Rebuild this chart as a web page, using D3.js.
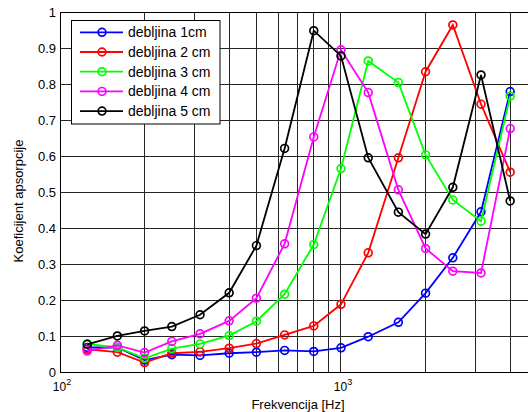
<!DOCTYPE html>
<html>
<head>
<meta charset="utf-8">
<script src="https://d3js.org/d3.v7.min.js"></script>
<style>
  body { margin: 0; background: #fff; }
  text { font-family: "Liberation Sans", Arial, sans-serif; fill: #000; }
</style>
</head>
<body>
<script>
// frequencies (Hz) for each measured point
var freqs = [125, 160, 200, 250, 315, 400, 500, 630, 800, 1000, 1250, 1600, 2000, 2500, 3150, 4000];

// absorption coefficient per thickness
var d1 = [0.070, 0.070, 0.035, 0.050, 0.048, 0.054, 0.057, 0.062, 0.059, 0.069, 0.100, 0.140, 0.221, 0.319, 0.447, 0.781];
var d2 = [0.065, 0.057, 0.028, 0.054, 0.058, 0.068, 0.081, 0.105, 0.130, 0.190, 0.333, 0.597, 0.836, 0.966, 0.746, 0.557];
var d3v = [0.080, 0.070, 0.040, 0.067, 0.080, 0.103, 0.143, 0.218, 0.356, 0.567, 0.866, 0.806, 0.605, 0.480, 0.421, 0.768];
var d4 = [0.060, 0.076, 0.056, 0.087, 0.108, 0.144, 0.207, 0.358, 0.655, 0.897, 0.778, 0.508, 0.345, 0.282, 0.277, 0.678];
var d5 = [0.079, 0.102, 0.116, 0.128, 0.161, 0.222, 0.353, 0.623, 0.950, 0.880, 0.597, 0.446, 0.385, 0.515, 0.827, 0.477];

var seriesNames = ["debljina 1cm", "debljina 2 cm", "debljina 3 cm", "debljina 4 cm", "debljina 5 cm"];
var seriesColors = ["#0000ff", "#ff0000", "#00ff00", "#ff00ff", "#000000"];
var seriesData = [d1, d2, d3v, d4, d5];

var yTicks = [0, 0.1, 0.2, 0.3, 0.4, 0.5, 0.6, 0.7, 0.8, 0.9, 1];
var xGrid = [200, 300, 400, 500, 600, 700, 800, 900, 1000, 2000, 3000, 4000, 5000];
var xMajor = [100, 1000];

var svgWidth = 528;
var svgHeight = 412;

// plot box (right edge lies outside the picture)
var plotLeft = 60, plotTop = 12.7, plotRight = 537.4, plotBottom = 372.7;

var svg = d3.select("body").append("svg")
  .attr("width", svgWidth)
  .attr("height", svgHeight);

var x = d3.scaleLog().domain([100, 5000]).range([plotLeft, plotRight]);
var y = d3.scaleLinear().domain([0, 1]).range([plotBottom, plotTop]);

// grid
var grid = svg.append("g")
  .attr("stroke", "#262626")
  .attr("stroke-width", 1)
  .attr("shape-rendering", "crispEdges");

grid.selectAll(".hg").data(yTicks).enter().append("line")
  .attr("x1", plotLeft).attr("x2", plotRight)
  .attr("y1", function(d) { return y(d); })
  .attr("y2", function(d) { return y(d); });

grid.selectAll(".vg").data(xGrid).enter().append("line")
  .attr("y1", plotTop).attr("y2", plotBottom)
  .attr("x1", function(d) { return x(d); })
  .attr("x2", function(d) { return x(d); });

// axes box
svg.append("path")
  .attr("d", "M" + plotRight + "," + plotTop + "H" + plotLeft + "V" + plotBottom + "H" + plotRight)
  .attr("fill", "none")
  .attr("stroke", "#000")
  .attr("stroke-width", 1)
  .attr("shape-rendering", "crispEdges");

// y tick labels
svg.selectAll(".ylab").data(yTicks).enter().append("text")
  .attr("x", 56)
  .attr("y", function(d) { return y(d); })
  .attr("dy", "0.36em")
  .attr("text-anchor", "end")
  .style("font-size", "13px")
  .text(function(d) { return d3.format("~g")(d); });

// x tick labels 10^n
var xl = svg.selectAll(".xlab").data(xMajor).enter().append("text")
  .attr("x", function(d) { return x(d) + 2; })
  .attr("y", 391)
  .attr("text-anchor", "middle")
  .style("font-size", "12px");
xl.append("tspan").text("10");
xl.append("tspan")
  .attr("dy", -6)
  .style("font-size", "9px")
  .text(function(d) { return Math.round(Math.log10(d)); });

// axis labels
svg.append("text")
  .attr("x", 298)
  .attr("y", 409)
  .attr("text-anchor", "middle")
  .style("font-size", "13px")
  .text("Frekvencija [Hz]");

svg.append("text")
  .attr("transform", "translate(23," + 201 + ") rotate(-90)")
  .attr("text-anchor", "middle")
  .style("font-size", "13px")
  .text("Koeficijent apsorpcije");

// series
var line = d3.line()
  .x(function(d, i) { return x(freqs[i]); })
  .y(function(d) { return y(d); });

var plot = svg.append("g");
seriesData.forEach(function(vals, k) {
  var g = plot.append("g");
  g.append("path")
    .datum(vals)
    .attr("d", line)
    .attr("fill", "none")
    .attr("stroke", seriesColors[k])
    .attr("stroke-width", 1.8);
  g.selectAll("circle").data(vals).enter().append("circle")
    .attr("cx", function(d, i) { return x(freqs[i]); })
    .attr("cy", function(d) { return y(d); })
    .attr("r", 3.9)
    .attr("fill", "none")
    .attr("stroke", seriesColors[k])
    .attr("stroke-width", 1.7);
});

// legend
var legend = svg.append("g");
legend.append("rect")
  .attr("x", 71.5).attr("y", 20.5)
  .attr("width", 148.5).attr("height", 103.5)
  .attr("fill", "#fff")
  .attr("stroke", "#000")
  .attr("stroke-width", 1);

var rows = legend.selectAll(".row").data(seriesNames).enter().append("g")
  .attr("transform", function(d, i) { return "translate(0," + (32.3 + i * 19.7) + ")"; });
rows.append("line")
  .attr("x1", 80).attr("x2", 123)
  .attr("stroke", function(d, i) { return seriesColors[i]; })
  .attr("stroke-width", 1.8);
rows.append("circle")
  .attr("cx", 102).attr("r", 3.9)
  .attr("fill", "none")
  .attr("stroke", function(d, i) { return seriesColors[i]; })
  .attr("stroke-width", 1.7);
rows.append("text")
  .attr("x", 128)
  .attr("dy", "0.36em")
  .style("font-size", "14px")
  .text(function(d) { return d; });
</script>
</body>
</html>
